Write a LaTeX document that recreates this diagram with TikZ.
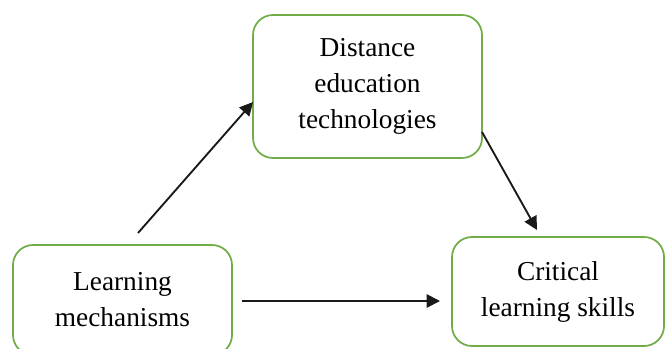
\documentclass[tikz,border=0pt]{standalone}
\usepackage{fontspec}
\setmainfont{Liberation Serif}
\usetikzlibrary{arrows.meta}
\definecolor{boxgreen}{RGB}{112,173,71}
\tikzset{
  box/.style={draw=boxgreen, line width=1.3pt, rounded corners=15pt, inner sep=0pt, outer sep=0pt,
    align=center, font=\fontsize{20.5}{27}\selectfont},
  conn/.style={draw=black!90, line width=1.4pt, -{Triangle[length=10pt,width=10pt]}}
}
\begin{document}
\begin{tikzpicture}[x=0.75pt,y=-0.75pt]
\useasboundingbox (0,0) rectangle (666,349);
\node[box, minimum width=171.75pt, minimum height=107.25pt] (det) at (367.5,86.5) {\raisebox{-2pt}{\parbox{171pt}{\centering Distance\\education\\technologies}}};
\node[box, minimum width=164.25pt, minimum height=82.5pt] (lm) at (122.5,300) {\raisebox{-2pt}{\parbox{164pt}{\centering Learning\\mechanisms}}};
\node[box, minimum width=159pt, minimum height=81.75pt] (cls) at (558,291.5) {Critical\\learning skills};
\coordinate (a1s) at ([shift={(15.5,-12)}]lm.north);
\coordinate (a1e) at ([shift={(0,15.5)}]det.west);
\coordinate (a2s) at ([shift={(0,-26)}]det.south east);
\coordinate (a2e) at ([shift={(-21,-7)}]cls.north);
\coordinate (a3s) at ([shift={(10,1)}]lm.east);
\coordinate (a3e) at ([shift={(-12,9.5)}]cls.west);
\draw[conn] (a1s) -- (a1e);
\draw[conn] (a2s) -- (a2e);
\draw[conn] (a3s) -- (a3e);
\end{tikzpicture}
\end{document}
